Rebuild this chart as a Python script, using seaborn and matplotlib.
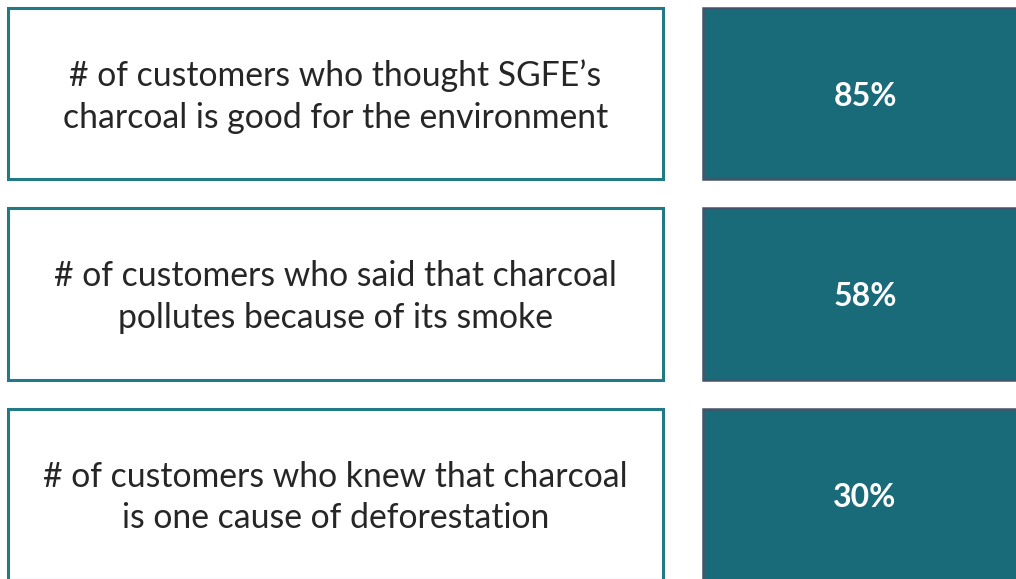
import pandas as pd
import seaborn as sns
import matplotlib.pyplot as plt

# statements and the share of customers for each
statements = [
    "# of customers who thought SGFE\u2019s\ncharcoal is good for the environment",
    "# of customers who said that charcoal\npollutes because of its smoke",
    "# of customers who knew that charcoal\nis one cause of deforestation",
]
shares = [85, 58, 30]

df = pd.DataFrame({"statement": statements, "share": shares})
df["box"] = 1  # every card has the same size

sns.set_theme(style="white")
plt.rcParams["font.family"] = ["Lato", "DejaVu Sans"]

teal = "#1a6b79"
teal_line = "#217a85"
slate = "#44546a"

fig = plt.figure(figsize=(10.16, 5.79), dpi=100)

# rows are 200.5 px apart, first centre at 93.5 px from the top
ylim = ((579 - 93.5) / 200.5, -93.5 / 200.5)
shift = 3 / 200.5  # text sits a little below the card centre

# left column: white cards with teal outline (8 -> 663 px)
ax_l = fig.add_axes([0, 0, 1, 1])
sns.barplot(data=df, x="box", y="statement", orient="h", width=0.853,
            color="white", edgecolor=teal_line, linewidth=2.2, ax=ax_l)
ax_l.set_xlim(-8 / 655, (1016 - 8) / 655)
ax_l.set_ylim(*ylim)
for i, s in enumerate(df["statement"]):
    ax_l.text(0.5, i + shift, s, ha="center", va="center", fontsize=24.3,
              color="#262626", linespacing=1.36)

# right column: filled teal cards with the percentage (703 px -> off the edge)
ax_r = fig.add_axes([0, 0, 1, 1])
ax_r.patch.set_alpha(0)
sns.barplot(data=df, x="box", y="statement", orient="h", width=0.853,
            color=teal, saturation=1, edgecolor=slate, linewidth=1.8, ax=ax_r)
ax_r.set_xlim(-703 / 340, (1016 - 703) / 340)
ax_r.set_ylim(*ylim)
for i, v in enumerate(df["share"]):
    ax_r.text(162 / 340, i + shift, f"{v}%", ha="center", va="center",
              fontsize=23, fontweight="bold", color="white")

for ax in (ax_l, ax_r):
    ax.set_axis_off()

fig.savefig("out.png", dpi=100)
